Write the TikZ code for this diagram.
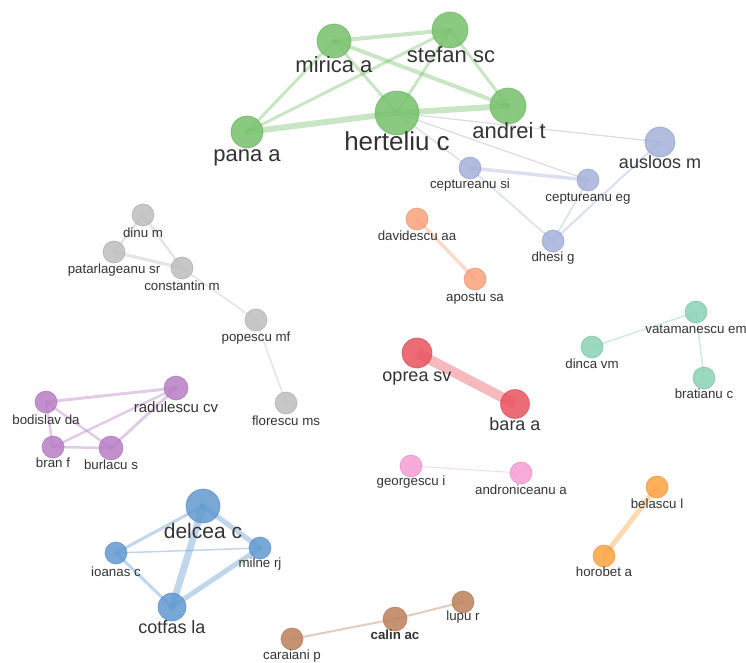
\documentclass[tikz,border=0pt]{standalone}
\usepackage{fontspec}
\setmainfont{Liberation Sans}
\usetikzlibrary{backgrounds}
\definecolor{cgreen}{HTML}{75C16A}
\definecolor{cperi}{HTML}{A4B0D9}
\definecolor{cgray}{HTML}{BDBDBD}
\definecolor{csalmon}{HTML}{F9A17B}
\definecolor{cred}{HTML}{E9525D}
\definecolor{cteal}{HTML}{88D1B5}
\definecolor{cpurple}{HTML}{B67DC4}
\definecolor{cpink}{HTML}{F59CD3}
\definecolor{corange}{HTML}{FDA23F}
\definecolor{cbrown}{HTML}{BB8059}
\definecolor{cblue}{HTML}{6199D0}
\definecolor{cxlink}{HTML}{D9DCE6}
\definecolor{txt}{HTML}{333333}
\begin{document}
\begin{tikzpicture}[x=1pt,y=-1pt,
  vert/.style 2 args={circle,inner sep=0pt,minimum size=#2,fill=#1,fill opacity=0.85,draw=#1!88!black,draw opacity=0.6,line width=0.8pt},
  lab/.style={anchor=base,text=txt,inner sep=0pt},
  fhuge/.style={font=\fontsize{26}{28}\selectfont},
  fbig/.style={font=\fontsize{22}{24}\selectfont},
  fdel/.style={font=\fontsize{21}{23}\selectfont},
  fmid/.style={font=\fontsize{18}{20}\selectfont},
  frad/.style={font=\fontsize{15}{17}\selectfont},
  fsmall/.style={font=\fontsize{13.3}{15}\selectfont},
  fbold/.style={font=\fontsize{13.3}{15}\selectfont\bfseries},
  lnk/.style 2 args={draw=#1,draw opacity=0.4,line width=#2,line cap=round},
]
\useasboundingbox (0,0) rectangle (746,663);

% ---- vertices
\node[vert={cgreen}{34pt}] (mirica) at (334,41) {};
\node[vert={cgreen}{36pt}] (stefan) at (450,30) {};
\node[vert={cgreen}{44pt}] (herteliu) at (397,113) {};
\node[vert={cgreen}{36pt}] (andrei) at (508,106) {};
\node[vert={cgreen}{32pt}] (pana) at (247,132) {};

\node[vert={cperi}{30pt}] (ausloos) at (660,142) {};
\node[vert={cperi}{22pt}] (cepsi) at (470,168) {};
\node[vert={cperi}{22pt}] (cepeg) at (588,180) {};
\node[vert={cperi}{22pt}] (dhesi) at (553,241) {};

\node[vert={cgray}{22pt}] (dinu) at (143,215) {};
\node[vert={cgray}{22pt}] (patar) at (114,252) {};
\node[vert={cgray}{22pt}] (const) at (182,268) {};
\node[vert={cgray}{22pt}] (popescu) at (256,320) {};
\node[vert={cgray}{22pt}] (florescu) at (286,403) {};

\node[vert={csalmon}{22pt}] (davidescu) at (417,219) {};
\node[vert={csalmon}{22pt}] (apostu) at (475,279) {};

\node[vert={cred}{30pt}] (oprea) at (417,353) {};
\node[vert={cred}{29pt}] (bara) at (515,404) {};

\node[vert={cteal}{22pt}] (vatam) at (696,312) {};
\node[vert={cteal}{22pt}] (dinca) at (592,347) {};
\node[vert={cteal}{22pt}] (brat) at (704,378) {};

\node[vert={cpurple}{24pt}] (radul) at (176,388) {};
\node[vert={cpurple}{22pt}] (bodis) at (46,402) {};
\node[vert={cpurple}{22pt}] (bran) at (53,447) {};
\node[vert={cpurple}{24pt}] (burlacu) at (111,448) {};

\node[vert={cpink}{22pt}] (georg) at (411,466) {};
\node[vert={cpink}{22pt}] (andron) at (521,473) {};

\node[vert={corange}{22pt}] (belascu) at (657,487) {};
\node[vert={corange}{22pt}] (horobet) at (604,556) {};

\node[vert={cbrown}{22pt}] (lupu) at (463,602) {};
\node[vert={cbrown}{24pt}] (calin) at (395,619) {};
\node[vert={cbrown}{22pt}] (caraiani) at (292,639) {};

\node[vert={cblue}{34pt}] (delcea) at (203,506) {};
\node[vert={cblue}{22pt}] (ioanas) at (116,553) {};
\node[vert={cblue}{22pt}] (milne) at (260,548) {};
\node[vert={cblue}{28pt}] (cotfas) at (172,607) {};

% ---- links
\begin{scope}[on background layer]
\draw[lnk={cgreen}{4pt}] (mirica.center) -- (stefan.center);
\draw[lnk={cgreen}{3pt}] (mirica.center) -- (pana.center);
\draw[lnk={cgreen}{3pt}] (mirica.center) -- (herteliu.center);
\draw[lnk={cgreen}{4pt}] (mirica.center) -- (andrei.center);
\draw[lnk={cgreen}{3pt}] (stefan.center) -- (pana.center);
\draw[lnk={cgreen}{3pt}] (stefan.center) -- (herteliu.center);
\draw[lnk={cgreen}{3pt}] (stefan.center) -- (andrei.center);
\draw[lnk={cgreen}{6pt}] (pana.center) -- (herteliu.center);
\draw[lnk={cgreen}{6pt}] (herteliu.center) -- (andrei.center);

\draw[draw=cxlink,line width=1.2pt] (herteliu.center) -- (ausloos.center);
\draw[draw=cxlink,line width=1.2pt] (herteliu.center) -- (cepeg.center);
\draw[draw=cxlink,line width=1.2pt] (herteliu.center) -- (cepsi.center);

\draw[lnk={cperi}{3.5pt}] (cepsi.center) -- (cepeg.center);
\draw[lnk={cperi}{1.6pt}] (cepsi.center) -- (dhesi.center);
\draw[lnk={cperi}{1.6pt}] (cepeg.center) -- (dhesi.center);
\draw[lnk={cperi}{2pt}] (ausloos.center) -- (dhesi.center);

\draw[lnk={cgray}{2.5pt}] (dinu.center) -- (patar.center);
\draw[lnk={cgray}{2.5pt}] (dinu.center) -- (const.center);
\draw[lnk={cgray}{3.2pt}] (patar.center) -- (const.center);
\draw[lnk={cgray}{1.5pt}] (const.center) -- (popescu.center);
\draw[lnk={cgray}{1.5pt}] (popescu.center) -- (florescu.center);

\draw[lnk={csalmon}{3.5pt}] (davidescu.center) -- (apostu.center);

\draw[lnk={cred}{10pt},line cap=butt] (oprea.center) -- (bara.center);

\draw[lnk={cteal}{1.6pt}] (vatam.center) -- (dinca.center);
\draw[lnk={cteal}{1.6pt}] (vatam.center) -- (brat.center);

\draw[lnk={cpurple}{3pt}] (bodis.center) -- (radul.center);
\draw[lnk={cpurple}{2.5pt}] (bodis.center) -- (bran.center);
\draw[lnk={cpurple}{2.5pt}] (bodis.center) -- (burlacu.center);
\draw[lnk={cpurple}{2.5pt}] (bran.center) -- (radul.center);
\draw[lnk={cpurple}{2.5pt}] (bran.center) -- (burlacu.center);
\draw[lnk={cpurple}{3pt}] (burlacu.center) -- (radul.center);

\draw[lnk={cpink}{1pt}] (georg.center) -- (andron.center);

\draw[lnk={corange}{5pt}] (belascu.center) -- (horobet.center);

\draw[lnk={cbrown}{2pt}] (caraiani.center) -- (calin.center);
\draw[lnk={cbrown}{2pt}] (calin.center) -- (lupu.center);

\draw[lnk={cblue}{3pt}] (delcea.center) -- (ioanas.center);
\draw[lnk={cblue}{5pt}] (delcea.center) -- (milne.center);
\draw[lnk={cblue}{7pt}] (delcea.center) -- (cotfas.center);
\draw[lnk={cblue}{1.5pt}] (ioanas.center) -- (milne.center);
\draw[lnk={cblue}{3pt}] (ioanas.center) -- (cotfas.center);
\draw[lnk={cblue}{5pt}] (milne.center) -- (cotfas.center);
\end{scope}

% ---- labels
\node[lab,fbig] (lmirica) at (334,73) {mirica a};
\node[lab,fbig] (lstefan) at (451,63) {stefan sc};
\node[lab,fhuge] (lherteliu) at (397,151) {herteliu c};
\node[lab,fbig] (landrei) at (509,139) {andrei t};
\node[lab,fbig] (lpana) at (247,162) {pana a};

\node[lab,fmid] (lausloos) at (660,168) {ausloos m};
\node[lab,fsmall] (lcepsi) at (470,188) {ceptureanu si};
\node[lab,fsmall] (lcepeg) at (588,201) {ceptureanu eg};
\node[lab,fsmall] (ldhesi) at (553,261) {dhesi g};

\node[lab,fsmall] (ldinu) at (143,237) {dinu m};
\node[lab,fsmall] (lpatar) at (114,273) {patarlageanu sr};
\node[lab,fsmall] (lconst) at (182,290) {constantin m};
\node[lab,fsmall] (lpopescu) at (256,341) {popescu mf};
\node[lab,fsmall] (lflorescu) at (286,425) {florescu ms};

\node[lab,fsmall] (ldavidescu) at (417,240) {davidescu aa};
\node[lab,fsmall] (lapostu) at (475,301) {apostu sa};

\node[lab,fmid] (loprea) at (417,381) {oprea sv};
\node[lab,fmid] (lbara) at (515,430) {bara a};

\node[lab,fsmall] (lvatam) at (696,333) {vatamanescu em};
\node[lab,fsmall] (ldinca) at (592,368) {dinca vm};
\node[lab,fsmall] (lbrat) at (704,398) {bratianu c};

\node[lab,frad] (lradul) at (176,412) {radulescu cv};
\node[lab,fsmall] (lbodis) at (46,424) {bodislav da};
\node[lab,fsmall] (lbran) at (53,467) {bran f};
\node[lab,fsmall] (lburlacu) at (111,469) {burlacu s};

\node[lab,fsmall] (lgeorg) at (411,485) {georgescu i};
\node[lab,fsmall] (landron) at (521,494) {androniceanu a};

\node[lab,fsmall] (lbelascu) at (657,508) {belascu l};
\node[lab,fsmall] (lhorobet) at (604,576) {horobet a};

\node[lab,fsmall] (llupu) at (463,620) {lupu r};
\node[lab,fbold] (lcalin) at (395,639) {calin ac};
\node[lab,fsmall] (lcaraiani) at (292,659) {caraiani p};

\node[lab,fdel] (ldelcea) at (203,538) {delcea c};
\node[lab,fsmall] (lioanas) at (116,576) {ioanas c};
\node[lab,fsmall] (lmilne) at (260,567) {milne rj};
\node[lab,fmid] (lcotfas) at (172,633) {cotfas la};
\end{tikzpicture}
\end{document}
